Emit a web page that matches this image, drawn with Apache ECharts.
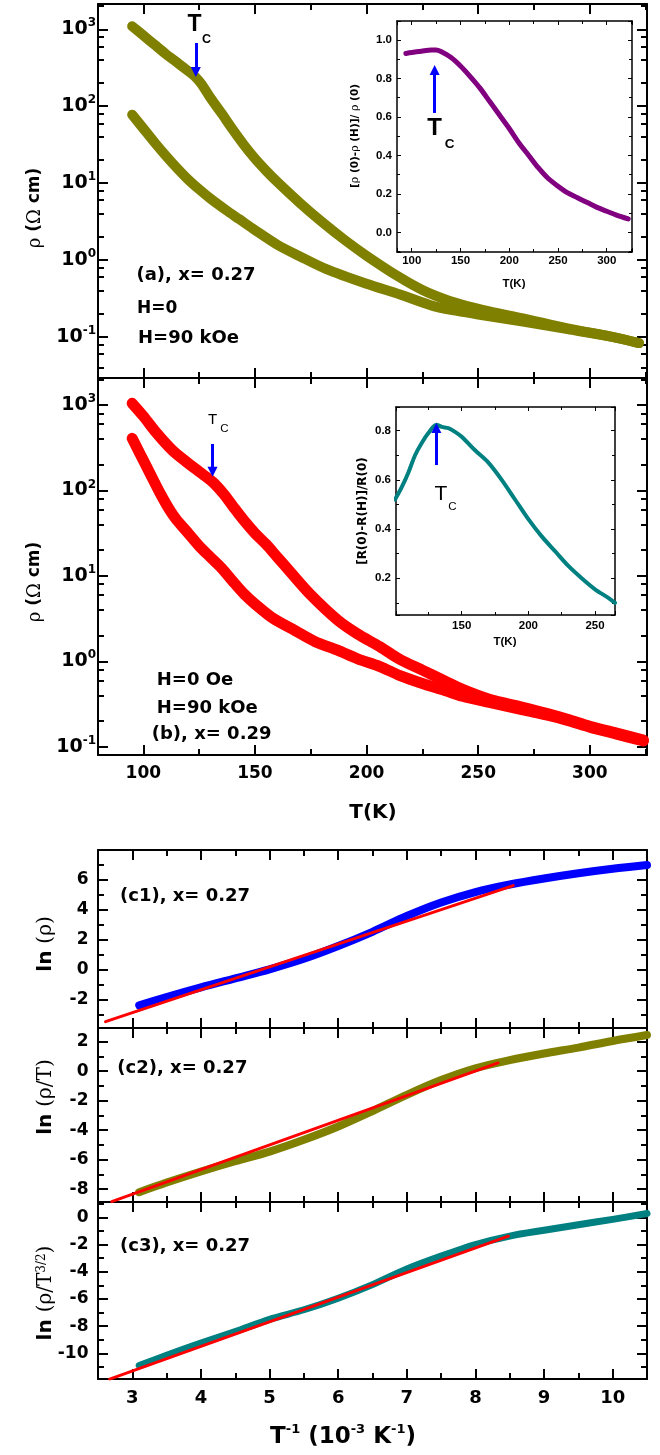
<!DOCTYPE html>
<html>
<head>
<meta charset="utf-8">
<title>Resistivity, magnetoresistance and transport fits</title>
<script src="https://cdn.jsdelivr.net/npm/echarts@6.0.0/dist/echarts.min.js"></script>
<style>
html, body { margin: 0; padding: 0; background: #fff; }
#chart { width: 660px; height: 1455px; }
</style>
</head>
<body>
<div id="chart"></div>
<script>
// ---------------- data ----------------
// (a) x = 0.27 : resistivity (Ω cm) against temperature (K)
const tempA0  = [95, 100, 105, 110, 115, 120, 123, 126, 130, 135, 140, 145, 150, 155, 160, 170, 180, 190, 200, 215, 225, 235, 245, 255, 270, 290, 310, 322];
const rhoA0   = [1096, 832, 631, 479, 372, 288, 245, 195, 129, 81, 50, 31.6, 20.9, 14.5, 10.35, 5.56, 3.13, 1.84, 1.135, 0.59, 0.407, 0.309, 0.251, 0.214, 0.174, 0.129, 0.1, 0.083];
const tempA90 = [95, 100, 105, 110, 115, 120, 125, 130, 137, 143, 150, 160, 170, 182, 200, 215, 230, 240, 250, 270, 290, 310, 322];
const rhoA90  = [77.6, 51.3, 33.9, 22.9, 15.8, 11.2, 8.3, 6.3, 4.47, 3.39, 2.45, 1.58, 1.12, 0.76, 0.49, 0.355, 0.251, 0.219, 0.195, 0.158, 0.126, 0.1, 0.083];

// inset (a): [ρ(0) − ρ(H)] / ρ(0)
const tempMrA = [94, 100, 110, 120, 125, 130, 140, 150, 160, 170, 180, 190, 200, 210, 220, 230, 240, 250, 260, 270, 280, 290, 300, 310, 322];
const mrA     = [0.93, 0.935, 0.942, 0.948, 0.948, 0.94, 0.91, 0.865, 0.81, 0.75, 0.68, 0.61, 0.54, 0.465, 0.40, 0.335, 0.28, 0.24, 0.205, 0.18, 0.155, 0.13, 0.11, 0.09, 0.07];

// (b) x = 0.29
const tempB0  = [95, 100, 106, 113, 119, 125, 131, 136, 140, 145, 150, 155, 160, 166, 175, 187, 196, 206, 215, 225, 235, 243, 255, 270, 281, 290, 300, 312, 324];
const rhoB0   = [1047, 741, 468, 295, 219, 166, 126, 91, 66, 44.7, 31.6, 23.4, 16.6, 11, 6.0, 3.05, 2.09, 1.48, 1.05, 0.79, 0.59, 0.47, 0.36, 0.29, 0.245, 0.21, 0.174, 0.145, 0.12];
const tempB90 = [95, 98.5, 103, 107.5, 112, 115, 119.5, 125, 130, 135, 140, 145, 150, 158, 168, 177, 187, 196, 206, 215, 225, 235, 243, 255, 270, 281, 290, 300, 312, 324];
const rhoB90  = [407, 269, 158, 93, 58, 45, 33, 22.4, 16.6, 12.4, 8.7, 6.2, 4.7, 3.2, 2.29, 1.7, 1.35, 1.07, 0.87, 0.68, 0.55, 0.457, 0.39, 0.33, 0.27, 0.234, 0.204, 0.17, 0.141, 0.117];

// inset (b): [R(0) − R(H)] / R(0)
const tempMrB = [100, 105, 110, 115, 120, 125, 131, 135, 140, 145, 150, 160, 170, 180, 190, 200, 210, 220, 230, 240, 250, 260, 265];
const mrB     = [0.52, 0.57, 0.63, 0.70, 0.75, 0.79, 0.824, 0.815, 0.81, 0.795, 0.775, 0.72, 0.67, 0.60, 0.52, 0.44, 0.37, 0.31, 0.25, 0.20, 0.155, 0.12, 0.10];

// Curie temperatures (K)
const tcA = 123.5;
const tcB = 131;

// (c) x = 0.27 against inverse temperature (10^-3 K^-1)
const invT     = [3.1, 3.5, 4, 4.5, 5, 5.5, 6, 6.5, 7, 7.5, 8, 8.5, 9, 9.5, 10, 10.5];
const lnRho    = [-2.4, -1.85, -1.2, -0.6, 0, 0.7, 1.55, 2.5, 3.55, 4.45, 5.15, 5.65, 6.05, 6.4, 6.7, 6.95];
const lnRhoT   = [-8.2, -7.55, -6.8, -6.1, -5.45, -4.65, -3.75, -2.7, -1.6, -0.6, 0.2, 0.75, 1.2, 1.6, 2.05, 2.45];
const lnRhoT32 = [-10.9, -10.15, -9.25, -8.4, -7.5, -6.8, -5.95, -4.95, -3.8, -2.85, -2.0, -1.38, -0.95, -0.55, -0.15, 0.28];

// straight-line fits (end points)
const fitX1 = [2.61, 8.55],  fitY1 = [-3.49, 5.58];
const fitX2 = [2.7, 8.33],   fitY2 = [-8.84, 0.56];
const fitX3 = [2.67, 8.48],  fitY3 = [-11.9, -1.39];

// panel annotations
const panelLabels = ['(a), x= 0.27', 'H=0', 'H=90 kOe', 'H=0 Oe', 'H=90 kOe', '(b), x= 0.29',
                     '(c1), x= 0.27', '(c2), x= 0.27', '(c3), x= 0.27'];

// ---------------- helpers ----------------
const zip = (xs, ys) => xs.map((x, i) => [x, ys[i]]);
const F = 'DejaVu Sans';
const FL = 'Liberation Sans';
const K = '#000';

function frameAxis(grid, pos, min, max, o) {
  o = o || {};
  const ax = {
    type: 'value', gridIndex: grid, position: pos, min: min, max: max,
    splitNumber: o.split || 5,
    splitLine: { show: false },
    axisLine: { show: true, onZero: false, lineStyle: { color: K, width: o.lw || 2 } },
    axisTick: { show: true, inside: true, length: o.tl || 10, lineStyle: { color: K, width: o.tw || 2 } },
    minorTick: { show: o.ml !== 0, splitNumber: 2, length: o.ml || 6, lineStyle: { color: K, width: o.tw || 2 } },
    axisLabel: { show: false }
  };
  if (o.label) {
    ax.axisLabel = Object.assign({
      show: true, color: K, showMinLabel: false, showMaxLabel: false
    }, o.label);
  }
  return ax;
}

function logAxis(grid, pos, min, max, label) {
  const ax = {
    type: 'log', logBase: 10, gridIndex: grid, position: pos, min: min, max: max, splitNumber: 5,
    splitLine: { show: false },
    axisLine: { show: true, onZero: false, lineStyle: { color: K, width: 2 } },
    axisTick: { show: true, inside: true, length: 10, lineStyle: { color: K, width: 2 } },
    axisLabel: { show: false }
  };
  if (label) {
    ax.axisLabel = {
      show: true, margin: 2, showMinLabel: false, showMaxLabel: false,
      formatter: v => '{m|10}{e|' + Math.round(Math.log10(v)) + '}',
      rich: {
        m: { fontFamily: F, fontWeight: 'bold', fontSize: 19, lineHeight: 24, color: K },
        e: { fontFamily: F, fontWeight: 'bold', fontSize: 12, lineHeight: 12, color: K, verticalAlign: 'top' }
      }
    };
  }
  return ax;
}

// 2,4,6,8 × 10^k minor ticks, placed on a companion axis in decade units
function logMinorAxis(grid, pos, min, max) {
  const lo = Math.log10(min), hi = Math.log10(max);
  const vals = [];
  for (let k = Math.floor(lo); k <= Math.ceil(hi); k++) {
    [2, 4, 6, 8].forEach(m => { const v = k + Math.log10(m); if (v > lo && v < hi) vals.push(v); });
  }
  return {
    type: 'value', gridIndex: grid, position: pos, min: lo, max: hi,
    splitLine: { show: false }, axisLine: { show: false, onZero: false }, axisLabel: { show: false },
    axisTick: { show: true, inside: true, length: 6, lineStyle: { color: K, width: 2 }, customValues: vals }
  };
}

const numLabel = (size, margin, fam) => ({ fontFamily: fam || F, fontWeight: 'bold', fontSize: size, margin: margin, color: K });
const insetOpts = (label) => ({ lw: 1.5, tl: 4, tw: 1, ml: 3, label: label });

// axis ranges
const A_MIN = 0.0292, A_MAX = 2133;
const B_MIN = 0.0802, B_MAX = 2070;

const grids = [
  { left: 98, top: 4,    width: 549, height: 374 },   // (a)
  { left: 98, top: 378,  width: 549, height: 377 },   // (b)
  { left: 397, top: 21,  width: 235, height: 231 },   // inset (a)
  { left: 396, top: 407, width: 219, height: 208 },   // inset (b)
  { left: 98, top: 850,  width: 549, height: 178 },   // (c1)
  { left: 98, top: 1028, width: 549, height: 174 },   // (c2)
  { left: 98, top: 1202, width: 549, height: 177 }    // (c3)
];

const xAxes = [
  frameAxis(0, 'bottom', 79.7, 325.6),
  frameAxis(0, 'top', 79.7, 325.6),
  frameAxis(1, 'bottom', 79.7, 325.6, { label: numLabel(17, 10) }),
  frameAxis(1, 'top', 79.7, 325.6),
  frameAxis(2, 'bottom', 84.9, 325.9, insetOpts(numLabel(11.5, 3, FL))),
  frameAxis(2, 'top', 84.9, 325.9, insetOpts()),
  Object.assign(frameAxis(3, 'bottom', 100.7, 265, insetOpts(numLabel(11.5, 5, FL))), { splitNumber: 3 }),
  Object.assign(frameAxis(3, 'top', 100.7, 265, insetOpts()), { splitNumber: 3 }),
  frameAxis(4, 'bottom', 2.5, 10.5, { split: 8 }),
  frameAxis(4, 'top', 2.5, 10.5, { split: 8 }),
  frameAxis(5, 'bottom', 2.5, 10.5, { split: 8 }),
  frameAxis(5, 'top', 2.5, 10.5, { split: 8 }),
  frameAxis(6, 'bottom', 2.5, 10.5, { split: 8, label: numLabel(18, 10) }),
  frameAxis(6, 'top', 2.5, 10.5, { split: 8 })
];

const insetY = () => Object.assign(numLabel(11.5, 5, FL), { formatter: v => v.toFixed(1) });

const yAxes = [
  logAxis(0, 'left', A_MIN, A_MAX, true),            // 0
  logAxis(0, 'right', A_MIN, A_MAX, false),          // 1
  logMinorAxis(0, 'left', A_MIN, A_MAX),             // 2
  logMinorAxis(0, 'right', A_MIN, A_MAX),            // 3
  logAxis(1, 'left', B_MIN, B_MAX, true),            // 4
  logAxis(1, 'right', B_MIN, B_MAX, false),          // 5
  logMinorAxis(1, 'left', B_MIN, B_MAX),             // 6
  logMinorAxis(1, 'right', B_MIN, B_MAX),            // 7
  frameAxis(2, 'left', -0.102, 1.099, Object.assign(insetOpts(insetY()), { split: 6 })),   // 8
  frameAxis(2, 'right', -0.102, 1.099, Object.assign(insetOpts(), { split: 6 })),         // 9
  frameAxis(3, 'left', 0.0505, 0.896, Object.assign(insetOpts(insetY()), { split: 4 })),   // 10
  frameAxis(3, 'right', 0.0505, 0.896, Object.assign(insetOpts(), { split: 4 })),         // 11
  frameAxis(4, 'left', -3.913, 7.953, { split: 6, label: numLabel(17, 9.5) }),   // 12
  frameAxis(4, 'right', -3.913, 7.953, { split: 6 }),                             // 13
  frameAxis(5, 'left', -8.868, 2.929, { split: 6, label: numLabel(17, 9.5) }),   // 14
  frameAxis(5, 'right', -8.868, 2.929, { split: 6 }),                             // 15
  frameAxis(6, 'left', -11.89, 1.125, { split: 6, label: numLabel(17, 9.5) }),   // 16
  frameAxis(6, 'right', -11.89, 1.125, { split: 6 })                              // 17
];

function band(x, y, data, color, width, z, smooth) {
  return {
    type: 'line', xAxisIndex: x, yAxisIndex: y, data: data, symbol: 'none',
    smooth: smooth === undefined ? 0.3 : smooth,
    lineStyle: { color: color, width: width, cap: 'round', join: 'round' }, z: z || 2, silent: true
  };
}

// blue arrow pointing at the Curie temperature; the head is centred on the end point
function tcArrow(t, from, to, size) {
  return {
    silent: true, symbol: ['none', 'triangle'], symbolSize: size,
    lineStyle: { color: '#0000ff', width: 3, type: 'solid' }, itemStyle: { color: '#0000ff' },
    label: { show: false }, emphasis: { disabled: true },
    data: [[{ coord: [t, from] }, { coord: [t, to] }]]
  };
}

const OLIVE = '#808000', RED = '#ff0000', BLUE = '#0000ff', TEAL = '#008080', PURPLE = '#800080';

const series = [
  Object.assign(band(0, 0, zip(tempA0, rhoA0), OLIVE, 10), { markLine: tcArrow(tcA, 664, 279, 10) }),
  band(0, 0, zip(tempA90, rhoA90), OLIVE, 10),
  Object.assign(band(4, 8, zip(tempMrA, mrA), PURPLE, 5, 3), { markLine: tcArrow(tcA, 0.621, 0.844, 10) }),
  Object.assign(band(2, 4, zip(tempB0, rhoB0), RED, 11), { markLine: tcArrow(tcB, 350, 166, 10) }),
  band(2, 4, zip(tempB90, rhoB90), RED, 11),
  Object.assign(band(6, 10, zip(tempMrB, mrB), TEAL, 4, 3), { markLine: tcArrow(tcB, 0.66, 0.811, 10) }),
  band(8, 12, zip(invT, lnRho), BLUE, 8),
  band(8, 12, zip(fitX1, fitY1), RED, 3, 4, false),
  band(10, 14, zip(invT, lnRhoT), OLIVE, 8),
  band(10, 14, zip(fitX2, fitY2), RED, 3, 4, false),
  band(12, 16, zip(invT, lnRhoT32), TEAL, 7),
  band(12, 16, zip(fitX3, fitY3), RED, 3, 4, false)
];

// ---------------- text ----------------
function txt(x, y, text, font, opts) {
  opts = opts || {};
  const style = {
    text: text, font: font, fill: opts.color || K,
    align: opts.align || 'left', textAlign: opts.align || 'left',
    verticalAlign: 'middle', textVerticalAlign: 'middle'
  };
  if (opts.rich) style.rich = opts.rich;
  return { type: 'text', x: x, y: y, rotation: opts.rot || 0, z: 100, style: style };
}
const B = (s) => 'bold ' + s + 'px "' + F + '"';
const BL = (s) => 'bold ' + s + 'px "' + FL + '"';
const N = (s) => s + 'px "' + FL + '"';
const ROT = Math.PI / 2;

const rhoTitleRich = {
  g: { fontFamily: 'DejaVu Serif', fontSize: 18, color: K },
  b: { fontFamily: F, fontWeight: 'bold', fontSize: 17, color: K }
};
const lnRich = {
  b: { fontFamily: F, fontWeight: 'bold', fontSize: 20, color: K },
  g: { fontFamily: 'DejaVu Serif', fontSize: 20, color: K },
  s: { fontFamily: 'DejaVu Serif', fontSize: 12, color: K, verticalAlign: 'top' }
};
const invRich = {
  b: { fontFamily: F, fontWeight: 'bold', fontSize: 23, lineHeight: 28, color: K },
  s: { fontFamily: F, fontWeight: 'bold', fontSize: 13, lineHeight: 13, color: K, verticalAlign: 'top' }
};
const insetTitleRich = {
  b: { fontFamily: F, fontWeight: 'bold', fontSize: 10.5, color: K },
  g: { fontFamily: 'DejaVu Serif', fontSize: 11, color: K }
};

const graphics = [
  // panel (a)
  txt(194.5, 25, 'T', BL(23), { align: 'center' }),
  txt(206.5, 39.5, 'C', BL(12.5), { align: 'center' }),
  txt(136.5, 275, panelLabels[0], B(18)),
  txt(137, 309, panelLabels[1], B(17)),
  txt(138, 338, panelLabels[2], B(18)),
  txt(35, 208, '{g|ρ} {b|(}{g|Ω}{b| cm)}', B(17), { align: 'center', rot: ROT, rich: rhoTitleRich }),
  // inset (a)
  txt(434.5, 128.5, 'T', BL(24), { align: 'center' }),
  txt(449.5, 144, 'C', BL(13.5), { align: 'center' }),
  txt(355, 136, '{b|[}{g|ρ}{b| (0)-}{g|ρ}{b| (H)]/ }{g|ρ}{b| (0)}', B(10.5), { align: 'center', rot: ROT, rich: insetTitleRich }),
  txt(514, 284, 'T(K)', BL(11.5), { align: 'center' }),
  // panel (b)
  txt(212.5, 420, 'T', N(15), { align: 'center' }),
  txt(224.5, 429, 'C', N(11.5), { align: 'center' }),
  txt(156.8, 680, panelLabels[3], B(18)),
  txt(156.8, 708, panelLabels[4], B(18)),
  txt(151.7, 734, panelLabels[5], B(18)),
  txt(35, 582, '{g|ρ} {b|(}{g|Ω}{b| cm)}', B(17), { align: 'center', rot: ROT, rich: rhoTitleRich }),
  txt(373, 813, 'T(K)', B(20), { align: 'center' }),
  // inset (b)
  txt(441, 494, 'T', N(21), { align: 'center' }),
  txt(452.5, 506.5, 'C', N(11.5), { align: 'center' }),
  txt(363, 511, '[R(0)-R(H)]/R(0)', B(12), { align: 'center', rot: ROT }),
  txt(505, 641.5, 'T(K)', BL(11.5), { align: 'center' }),
  // panels (c)
  txt(120, 896, panelLabels[6], B(18)),
  txt(117.3, 1068, panelLabels[7], B(18)),
  txt(120, 1246, panelLabels[8], B(18)),
  txt(46, 944, '{b|ln }{g|(ρ)}', B(20), { align: 'center', rot: ROT, rich: lnRich }),
  txt(46, 1097, '{b|ln }{g|(ρ/T)}', B(20), { align: 'center', rot: ROT, rich: lnRich }),
  txt(46, 1293, '{b|ln }{g|(ρ/T}{s|3/2}{g|)}', B(20), { align: 'center', rot: ROT, rich: lnRich }),
  txt(343, 1437, '{b|T}{s|-1}{b| (10}{s|-3}{b| K}{s|-1}{b|)}', B(23), { align: 'center', rich: invRich })
];

const chart = echarts.init(document.getElementById('chart'), null, { renderer: 'canvas' });
chart.setOption({
  backgroundColor: '#fff',
  animation: false,
  grid: grids,
  xAxis: xAxes,
  yAxis: yAxes,
  series: series,
  graphic: graphics
});
</script>
</body>
</html>
